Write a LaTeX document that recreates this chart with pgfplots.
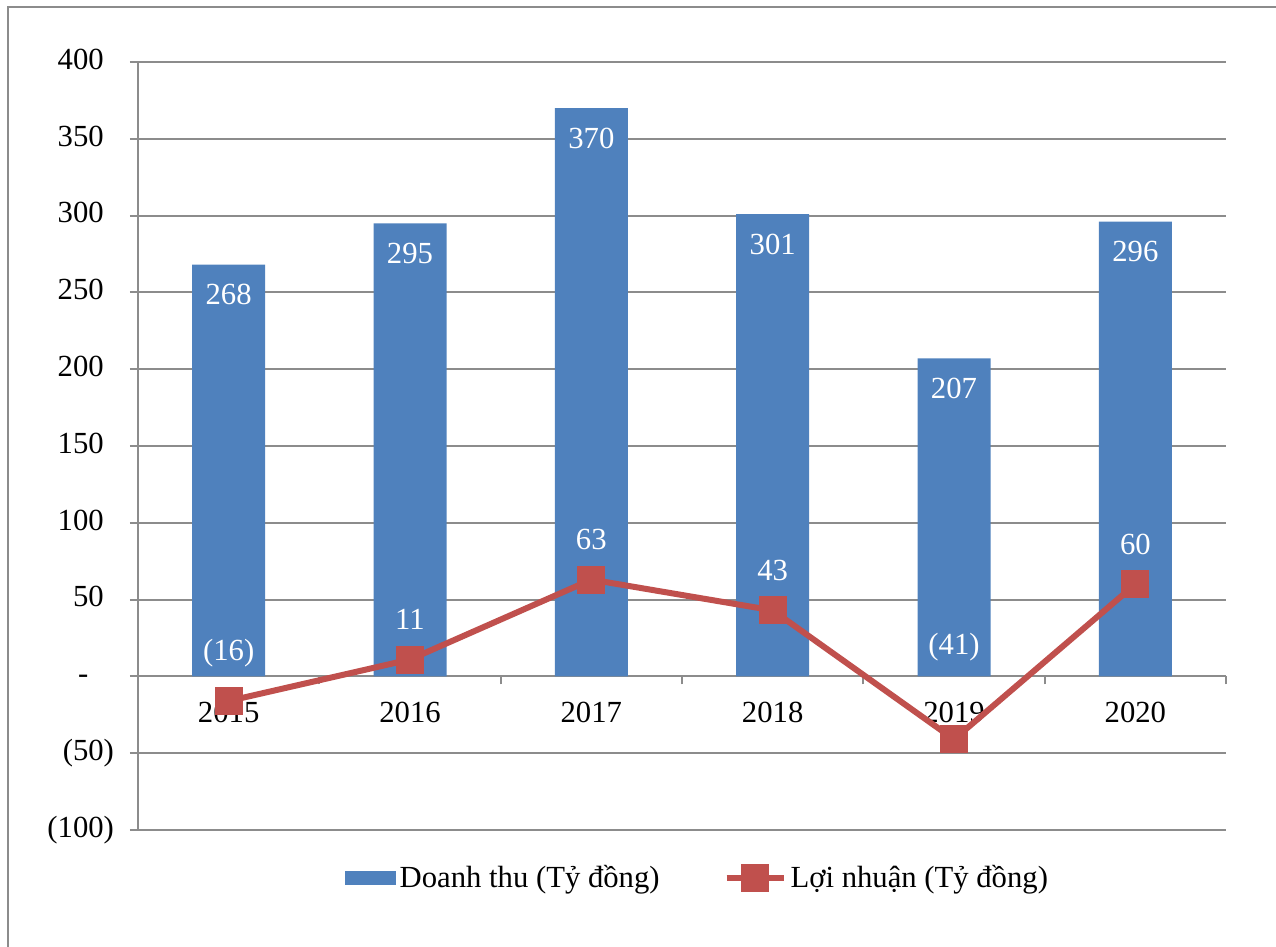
\documentclass[border=0pt]{standalone}
\usepackage{pgfplots}
\pgfplotsset{compat=1.18}
\usepackage{pgfplotstable}
\usepackage{fontspec}
\setmainfont{Liberation Serif}
\definecolor{barblue}{HTML}{4F81BD}
\definecolor{linered}{HTML}{C0504D}
\definecolor{gridgray}{HTML}{8C8C8C}

\pgfplotstableread{
x rev
1 268
2 295
3 370
4 301
5 207
6 296
}\revtable

\pgfplotstableread{
x prof lab dy
1 -16 (16) 24
2 11 11 20
3 63 63 20
4 43 43 20
5 -41 (41) 46
6 60 60 20
}\proftable

\begin{document}
\begin{tikzpicture}
\path[use as bounding box] (0bp,0bp) rectangle (638bp,473.5bp);
\draw[gridgray, line width=1.2bp] (4bp,0bp) -- (4bp,470bp) -- (638bp,470bp);
\begin{axis}[
  at={(69bp,58.5bp)}, anchor=south west,
  scale only axis, width=544bp, height=384bp,
  xmin=0.5, xmax=6.5, ymin=-100, ymax=400,
  axis y line=left, axis x line=middle,
  axis line style={-, gridgray, line width=1bp},
  font=\fontsize{15.4}{18}\selectfont,
  /pgf/number format/assume math mode=true,
  ytick={-100,-50,...,400},
  yticklabels={(100),(50),{-\phantom{0)}},50\phantom{)},100\phantom{)},150\phantom{)},200\phantom{)},250\phantom{)},300\phantom{)},350\phantom{)},400\phantom{)}},
  yticklabel style={xshift=-4.5bp},
  ymajorgrids, grid style={gridgray, line width=1bp},
  y tick style={gridgray, line width=1bp},
  tick align=outside, major tick length=4bp,
  xtick={1,...,6}, xticklabels={2015,2016,2017,2018,2019,2020},
  x tick style={draw=none},
  extra x ticks={0.5,1.5,2.5,3.5,4.5,5.5,6.5},
  extra x tick labels={},
  extra x tick style={x tick style={draw=gridgray, line width=1bp}, tick align=outside, major tick length=4bp},
  xticklabel style={yshift=-5.5bp},
  legend style={at={(0.515,-0.0625)}, anchor=center, draw=none, fill=none,
    legend columns=2, font=\fontsize{15.4}{18}\selectfont,
    /tikz/every even column/.append style={column sep=30bp}},
  legend cell align=left,
]
\addplot[ybar, bar width=36.5bp, fill=barblue, draw=none,
  nodes near coords,
  every node near coord/.append style={white, anchor=center, yshift=-15bp},
  legend image code/.code={\fill[barblue] (0bp,-3.5bp) rectangle (25.5bp,3.5bp);}
] table[x=x,y=rev]{\revtable};
\addlegendentry{Doanh thu (Tỷ đồng)}
\addplot[linered, line width=3bp, mark=square*, mark size=5.5bp, mark options={solid},
  nodes near coords, point meta=explicit symbolic,
  visualization depends on={\thisrow{dy} \as \dy},
  every node near coord/.append style={white, anchor=center, yshift=\dy bp},
  legend image code/.code={\draw[linered, line width=3bp] (0bp,0bp) -- (28.5bp,0bp);
    \fill[linered] (8.75bp,-5.5bp) rectangle (19.75bp,5.5bp);}
] table[x=x,y=prof,meta=lab]{\proftable};
\addlegendentry{Lợi nhuận (Tỷ đồng)}
\end{axis}
\end{tikzpicture}
\end{document}
